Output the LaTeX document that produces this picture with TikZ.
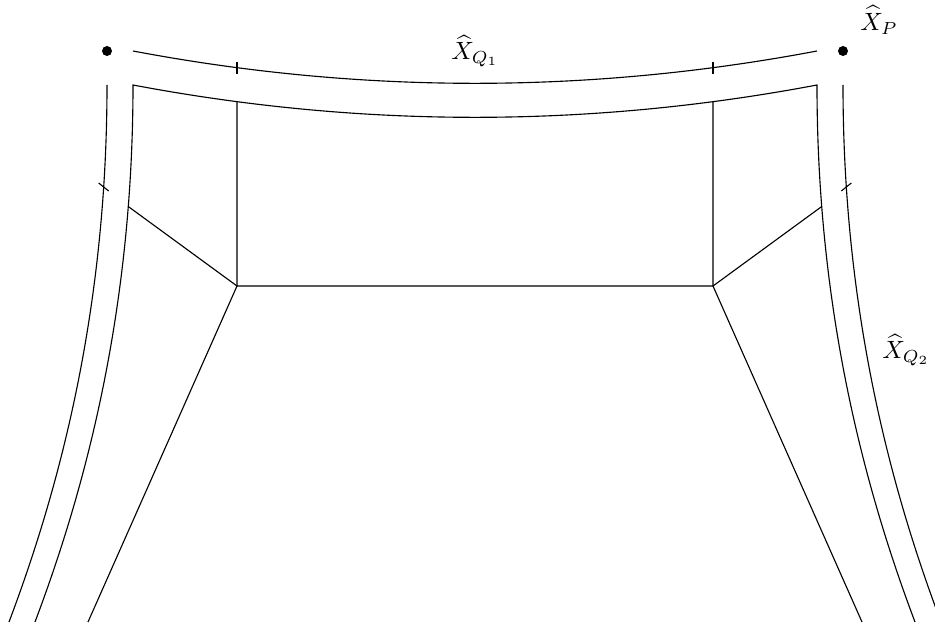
\documentclass[tikz,border=0pt]{standalone}
\usepackage{amsmath,amssymb}
\tikzset{
  edge/.style={line width=0.45pt, black},
  dotmark/.style={fill=black},
  lbl/.style={inner sep=0pt}
}
\begin{document}
\begin{tikzpicture}[x=0.4pt,y=-0.4pt]
\useasboundingbox (0,0) rectangle (935,625);
\clip (0,0) rectangle (935,625);
% dots
\fill[dotmark] (107,51) circle[radius=2pt];
\fill[dotmark] (843,51) circle[radius=2pt];
% outer top curve with ticks
\draw[edge] (133,51) .. controls (361,94.1) and (589,94.1) .. (817,51)
  coordinate[pos=0.152] (tA) coordinate[pos=0.848] (tB);
\draw[edge] ([yshift=-6*0.4pt]tA) -- ([yshift=6*0.4pt]tA);
\draw[edge] ([yshift=-6*0.4pt]tB) -- ([yshift=6*0.4pt]tB);
% inner frame: left middle, inner top, right middle
\draw[edge] (35,622) .. controls (81,500) and (133,320) .. (133,85)
  coordinate[pos=0.82] (dL)
  .. controls (361,128.1) and (589,128.1) .. (817,85)
  coordinate[pos=0.152] (vA) coordinate[pos=0.848] (vB)
  .. controls (817,320) and (869,500) .. (915,622)
  coordinate[pos=0.18] (dR);
% outer side curves with ticks
\draw[edge] (107,85) .. controls (107,320) and (55,500) .. (9,622)
  coordinate[pos=0.15] (sL);
\draw[edge] (843,85) .. controls (843,320) and (895,500) .. (941,622)
  coordinate[pos=0.15] (sR);
\draw[edge] ([shift={(-5,-4)}]sL) -- ([shift={(5,4)}]sL);
\draw[edge] ([shift={(5,-4)}]sR) -- ([shift={(-5,4)}]sR);
% inner rectangle and diagonals
\coordinate (pL) at (237,286);
\coordinate (pR) at (713,286);
\draw[edge] (vA) -- (pL) -- (pR) -- (vB);
\draw[edge] (dL) -- (pL) -- (88,622);
\draw[edge] (dR) -- (pR) -- (862,622);
% labels
\node[lbl] (lQ1) at (475,51) {$\widehat{X}_{Q_1}$};
\node[lbl] (lP) at (879,20) {$\widehat{X}_P$};
\node[lbl] (lQ2) at (906,350) {$\widehat{X}_{Q_2}$};
\end{tikzpicture}
\end{document}
